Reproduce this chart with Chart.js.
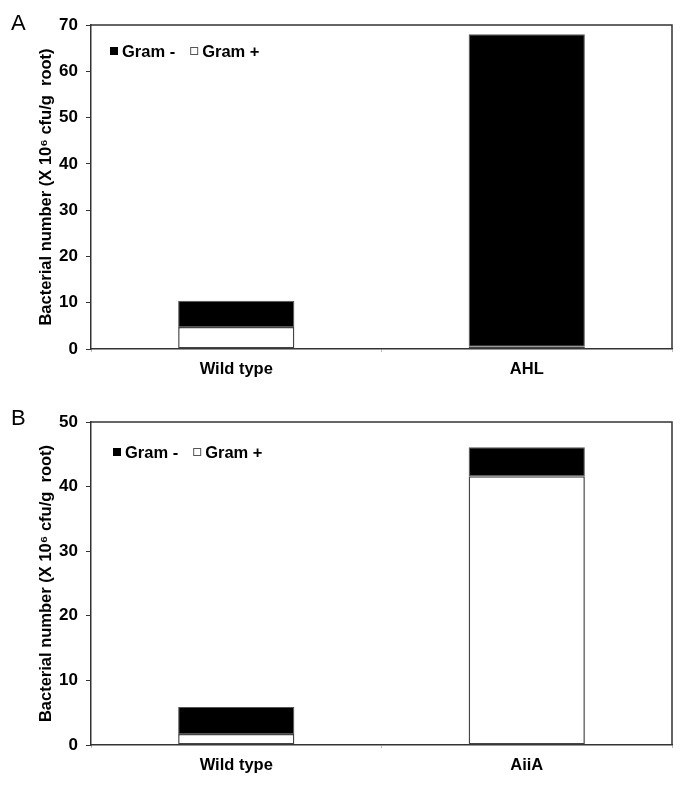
<!DOCTYPE html>
<html>
<head>
<meta charset="utf-8">
<script src="https://cdn.jsdelivr.net/npm/chart.js@4"></script>
<style>
  html, body { margin: 0; padding: 0; background: #fff; }
  canvas { display: block; }
</style>
</head>
<body>
<canvas id="panel-a" width="685" height="397"></canvas>
<canvas id="panel-b" width="685" height="390"></canvas>
<script>
// ---- data ----
const seriesLabels = ['Gram -', 'Gram +'];

const categoriesA = ['Wild type', 'AHL'];
const gramNegA = [5.65, 67.5];
const gramPosA = [4.75, 0.5];

const categoriesB = ['Wild type', 'AiiA'];
const gramNegB = [4.2, 4.5];
const gramPosB = [1.7, 41.6];

const yMaxA = 70, yMaxB = 50, yStep = 10;

const FONT = '"Liberation Sans", Arial, Helvetica, sans-serif';
const AXIS = '#333';
const yTitle = 'Bacterial number (X 10\u2076 cfu/g  root)';

Chart.defaults.font.family = FONT;
Chart.defaults.color = '#000';

// box round the plot + panel letter + inline legend
const panelDeco = {
  id: 'panelDeco',
  afterDatasetsDraw(chart, args, opts) {
    const { ctx, chartArea: a } = chart;
    ctx.save();
    ctx.strokeStyle = AXIS;
    ctx.lineWidth = 1.5;
    ctx.beginPath();
    ctx.moveTo(a.left, a.top);
    ctx.lineTo(a.right, a.top);
    ctx.lineTo(a.right, a.bottom);
    ctx.stroke();

    // panel letter
    ctx.fillStyle = '#000';
    ctx.font = '22px ' + FONT;
    ctx.textBaseline = 'alphabetic';
    ctx.fillText(opts.letter, 11, opts.letterY);

    // legend (Gram - first, then Gram +)
    ctx.font = 'bold 16.5px ' + FONT;
    ctx.textBaseline = 'middle';
    let x = opts.legendX;
    const y = opts.legendY;
    const order = [1, 0]; // dataset index for Gram -, Gram +
    order.forEach(di => {
      const ds = chart.data.datasets[di];
      ctx.fillStyle = ds.backgroundColor;
      ctx.fillRect(x, y - 4, 8, 8);
      ctx.strokeStyle = ds.backgroundColor === '#000' ? '#000' : '#555';
      ctx.lineWidth = 1;
      ctx.strokeRect(x + 0.5, y - 3.5, 7, 7);
      ctx.fillStyle = '#000';
      ctx.fillText(ds.label, x + 12, y + 1);
      x += 12 + ctx.measureText(ds.label).width + 15;
    });
    ctx.restore();
  }
};

function makePanel(id, cats, neg, pos, yMax, h, deco) {
  const plotTop = 25;
  const plotBottom = deco.plotBottom;
  new Chart(document.getElementById(id), {
    type: 'bar',
    data: {
      labels: cats,
      datasets: [
        { label: seriesLabels[1], data: pos, backgroundColor: '#fff', borderColor: '#444',
          borderWidth: 1.5, borderSkipped: false },
        { label: seriesLabels[0], data: neg, backgroundColor: '#000', borderColor: '#555',
          borderWidth: 1, borderSkipped: false }
      ]
    },
    options: {
      responsive: false,
      animation: false,
      events: [],
      layout: { padding: { left: 0, top: plotTop, right: 13, bottom: 0 } },
      datasets: { bar: { barPercentage: 0.4, categoryPercentage: 1.0 } },
      scales: {
        x: {
          stacked: true,
          afterFit: s => { s.height = h - plotBottom; },
          grid: { display: true, drawOnChartArea: false, drawTicks: true, tickLength: 3,
                  color: '#bbb', offset: true },
          border: { display: true, color: AXIS, width: 1.5 },
          ticks: { font: { size: 16.5, weight: 'bold' }, color: '#000', padding: 8 }
        },
        y: {
          stacked: true,
          min: 0, max: yMax,
          afterFit: s => { s.width = 91; },
          grid: { display: true, drawOnChartArea: false, drawTicks: true, tickLength: 5, color: AXIS },
          border: { display: true, color: AXIS, width: 1.5 },
          ticks: { stepSize: yStep, font: { size: 17, weight: 'bold' }, color: '#000', padding: 8 },
          title: { display: true, text: yTitle, font: { size: 16.5, weight: 'bold' }, color: '#000',
                   padding: { top: 37, bottom: 0 } }
        }
      },
      plugins: {
        legend: { display: false },
        tooltip: { enabled: false },
        panelDeco: deco
      }
    },
    plugins: [panelDeco]
  });
}

makePanel('panel-a', categoriesA, gramNegA, gramPosA, yMaxA, 397,
  { letter: 'A', letterY: 30, legendX: 110, legendY: 51, plotBottom: 349 });
makePanel('panel-b', categoriesB, gramNegB, gramPosB, yMaxB, 390,
  { letter: 'B', letterY: 28, legendX: 113, legendY: 55, plotBottom: 348 });
</script>
</body>
</html>
